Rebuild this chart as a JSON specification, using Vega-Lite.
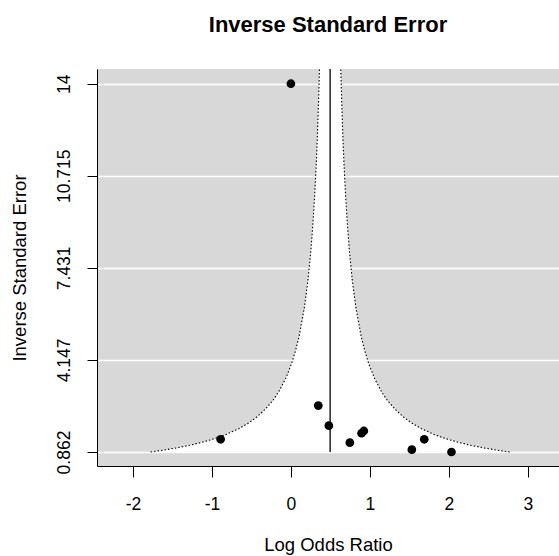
{
  "$schema": "https://vega.github.io/schema/vega-lite/v6.json",
  "autosize": {"type": "none"},
  "width": 462,
  "height": 397,
  "padding": {"left": 97, "top": 69, "right": 0, "bottom": 90},
  "background": "white",
  "config": {
    "view": {"fill": "#d8d8d8", "stroke": null},
    "font": "Liberation Sans"
  },
  "title": {
    "text": "Inverse Standard Error",
    "font": "Liberation Sans",
    "fontSize": 22,
    "fontWeight": "bold",
    "color": "black",
    "anchor": "middle",
    "frame": "group",
    "baseline": "alphabetic",
    "offset": 14
  },
  "datasets": {
    "funnel": [
      {"y": 0.862, "xl": -1.777, "xr": 2.771},
      {"y": 0.9, "xl": -1.681, "xr": 2.675},
      {"y": 0.95, "xl": -1.566, "xr": 2.560},
      {"y": 1.0, "xl": -1.463, "xr": 2.457},
      {"y": 1.1, "xl": -1.285, "xr": 2.279},
      {"y": 1.2, "xl": -1.136, "xr": 2.130},
      {"y": 1.3, "xl": -1.011, "xr": 2.005},
      {"y": 1.4, "xl": -0.903, "xr": 1.897},
      {"y": 1.5, "xl": -0.810, "xr": 1.804},
      {"y": 1.7, "xl": -0.656, "xr": 1.650},
      {"y": 1.9, "xl": -0.535, "xr": 1.529},
      {"y": 2.1, "xl": -0.436, "xr": 1.430},
      {"y": 2.4, "xl": -0.320, "xr": 1.314},
      {"y": 2.7, "xl": -0.229, "xr": 1.223},
      {"y": 3.0, "xl": -0.156, "xr": 1.150},
      {"y": 3.5, "xl": -0.063, "xr": 1.057},
      {"y": 4.0, "xl": 0.007, "xr": 0.987},
      {"y": 4.5, "xl": 0.061, "xr": 0.933},
      {"y": 5.0, "xl": 0.105, "xr": 0.889},
      {"y": 6.0, "xl": 0.170, "xr": 0.824},
      {"y": 7.0, "xl": 0.217, "xr": 0.777},
      {"y": 8.0, "xl": 0.252, "xr": 0.742},
      {"y": 9.0, "xl": 0.279, "xr": 0.715},
      {"y": 10.0, "xl": 0.301, "xr": 0.693},
      {"y": 11.0, "xl": 0.319, "xr": 0.675},
      {"y": 12.0, "xl": 0.334, "xr": 0.660},
      {"y": 13.0, "xl": 0.346, "xr": 0.648},
      {"y": 14.0, "xl": 0.357, "xr": 0.637},
      {"y": 14.525, "xl": 0.362, "xr": 0.632}
    ],
    "studies": [
      {"x": 0.0, "y": 14.0},
      {"x": -0.89, "y": 1.315},
      {"x": 0.347, "y": 2.516},
      {"x": 0.481, "y": 1.801},
      {"x": 0.747, "y": 1.194},
      {"x": 0.895, "y": 1.53},
      {"x": 0.924, "y": 1.612},
      {"x": 1.532, "y": 0.944},
      {"x": 1.689, "y": 1.315},
      {"x": 2.034, "y": 0.862}
    ],
    "center": [
      {"x": 0.497, "y": 0.862, "y2": 14.525}
    ]
  },
  "layer": [
    {
      "data": {"name": "funnel"},
      "mark": {"type": "area", "orient": "horizontal", "color": "white", "clip": true},
      "encoding": {
        "y": {
          "field": "y", "type": "quantitative",
          "scale": {"domain": [0.362, 14.525], "nice": false, "zero": false},
          "axis": {
            "values": [0.862, 4.147, 7.431, 10.715, 14],
            "format": ".5~r",
            "title": "Inverse Standard Error",
            "titleFont": "Liberation Sans",
            "titleFontSize": 18.5,
            "titleFontWeight": "normal",
            "titleColor": "black",
            "titlePadding": 26,
            "labelFont": "Liberation Sans",
            "labelFontSize": 17.5,
            "labelColor": "black",
            "labelAngle": -90,
            "labelAlign": "center",
            "labelBaseline": "alphabetic",
            "labelPadding": 18,
            "tickSize": 10,
            "tickColor": "black",
            "domainColor": "black",
            "domainWidth": 1,
            "grid": true,
            "gridColor": "white",
            "gridWidth": 1.6
          }
        },
        "x": {
          "field": "xl", "type": "quantitative",
          "scale": {"domain": [-2.456, 3.396], "nice": false, "zero": false},
          "axis": {
            "values": [-2, -1, 0, 1, 2, 3],
            "labelExpr": "'' + datum.value",
            "title": "Log Odds Ratio",
            "titleFont": "Liberation Sans",
            "titleFontSize": 18.5,
            "titleFontWeight": "normal",
            "titleColor": "black",
            "titlePadding": 23,
            "labelFont": "Liberation Sans",
            "labelFontSize": 17.5,
            "labelColor": "black",
            "labelPadding": 18,
            "tickSize": 11,
            "tickColor": "black",
            "domainColor": "black",
            "grid": false
          }
        },
        "x2": {"field": "xr"}
      }
    },
    {
      "data": {"name": "funnel"},
      "mark": {"type": "line", "color": "black", "strokeWidth": 1.1, "strokeDash": [1.5, 2], "clip": true},
      "encoding": {
        "x": {"field": "xl", "type": "quantitative"},
        "y": {"field": "y", "type": "quantitative"},
        "order": {"field": "y", "type": "quantitative"}
      }
    },
    {
      "data": {"name": "funnel"},
      "mark": {"type": "line", "color": "black", "strokeWidth": 1.1, "strokeDash": [1.5, 2], "clip": true},
      "encoding": {
        "x": {"field": "xr", "type": "quantitative"},
        "y": {"field": "y", "type": "quantitative"},
        "order": {"field": "y", "type": "quantitative"}
      }
    },
    {
      "data": {"name": "center"},
      "mark": {"type": "rule", "color": "black", "strokeWidth": 1.3},
      "encoding": {
        "x": {"field": "x", "type": "quantitative"},
        "y": {"field": "y", "type": "quantitative"},
        "y2": {"field": "y2"}
      }
    },
    {
      "data": {"name": "studies"},
      "mark": {"type": "circle", "color": "black", "opacity": 1, "size": 76},
      "encoding": {
        "x": {"field": "x", "type": "quantitative"},
        "y": {"field": "y", "type": "quantitative"}
      }
    }
  ]
}
